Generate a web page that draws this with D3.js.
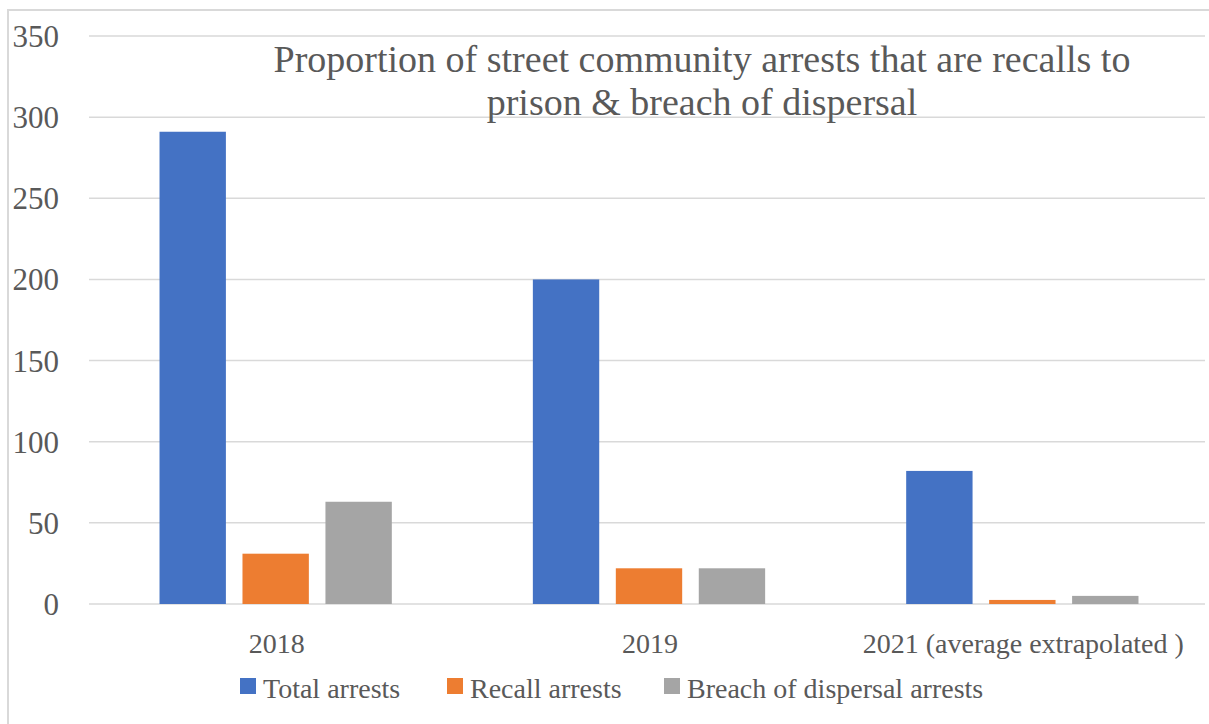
<!DOCTYPE html>
<html>
<head>
<meta charset="utf-8">
<script src="https://cdn.jsdelivr.net/npm/d3@7"></script>
<style>
  body { margin: 0; background: #fff; }
  svg text { font-family: "Liberation Serif", Tinos, "DejaVu Serif", "Times New Roman", serif; fill: #595959; }
</style>
</head>
<body>
<svg id="chart"></svg>
<script>
const categories = ['2018', '2019', '2021 (average extrapolated )'];
const seriesNames = ['Total arrests', 'Recall arrests', 'Breach of dispersal arrests'];
const totalArrests = [291, 200, 82];
const recallArrests = [31, 22, 2.5];
const breachArrests = [63, 22, 5];
const yTicks = [0, 50, 100, 150, 200, 250, 300, 350];
const titleLines = ['Proportion of street community arrests that are recalls to', 'prison & breach of dispersal'];

const COLORS = ['#4472c4', '#ed7d31', '#a5a5a5'];

const W = 1209, H = 724;
const margin = { top: 36, right: 4, bottom: 120, left: 89 };

const svg = d3.select('#chart').attr('width', W).attr('height', H);

// outer chart border
svg.append('rect')
    .attr('x', 8).attr('y', 10)
    .attr('width', W + 10).attr('height', H + 10)
    .attr('fill', 'none')
    .attr('stroke', '#d9d9d9')
    .attr('stroke-width', 2);

const series = [totalArrests, recallArrests, breachArrests];
const table = categories.map((c, i) => ({ cat: c, values: series.map(s => s[i]) }));

const y = d3.scaleLinear().domain([0, 350]).range([604, 36]);
const x0 = d3.scaleBand().domain(categories).range([margin.left, W]);
const x1 = d3.scaleBand().domain(d3.range(3)).range([0, x0.bandwidth()])
    .paddingInner(0.2).paddingOuter(0.85);

// gridlines
svg.append('g')
    .selectAll('line')
    .data(yTicks)
    .join('line')
    .attr('x1', margin.left)
    .attr('x2', W - margin.right)
    .attr('y1', d => y(d))
    .attr('y2', d => y(d))
    .attr('stroke', '#d9d9d9')
    .attr('stroke-width', 1.5);

// y axis labels
svg.append('g')
    .selectAll('text')
    .data(yTicks)
    .join('text')
    .attr('x', 59)
    .attr('y', d => y(d) + 11)
    .attr('text-anchor', 'end')
    .attr('font-size', 31)
    .text(d => d);

// bars
const groups = svg.append('g')
    .selectAll('g')
    .data(table)
    .join('g')
    .attr('transform', d => `translate(${x0(d.cat)},0)`);

groups.selectAll('rect')
    .data(d => d.values.map((v, i) => ({ v, i })))
    .join('rect')
    .attr('x', d => x1(d.i))
    .attr('width', x1.bandwidth())
    .attr('y', d => y(d.v))
    .attr('height', d => y(0) - y(d.v))
    .attr('fill', d => COLORS[d.i]);

// category labels
svg.append('g')
    .selectAll('text')
    .data(categories)
    .join('text')
    .attr('x', d => x0(d) + x0.bandwidth() / 2 + 1)
    .attr('y', 653)
    .attr('text-anchor', 'middle')
    .attr('font-size', 28)
    .text(d => d);

// title
svg.append('text')
    .attr('x', 702)
    .attr('y', 72)
    .attr('text-anchor', 'middle')
    .attr('font-size', 38)
    .selectAll('tspan')
    .data(titleLines)
    .join('tspan')
    .attr('x', 702)
    .attr('dy', (d, i) => i === 0 ? 0 : 43)
    .text(d => d);

// legend
const legendX = [240, 447, 664];
const legend = svg.append('g')
    .selectAll('g')
    .data(seriesNames)
    .join('g')
    .attr('transform', (d, i) => `translate(${legendX[i]},678)`);

legend.append('rect')
    .attr('width', 16).attr('height', 16)
    .attr('fill', (d, i) => COLORS[i]);

legend.append('text')
    .attr('x', 23)
    .attr('y', 20)
    .attr('font-size', 28)
    .text(d => d);
</script>
</body>
</html>
